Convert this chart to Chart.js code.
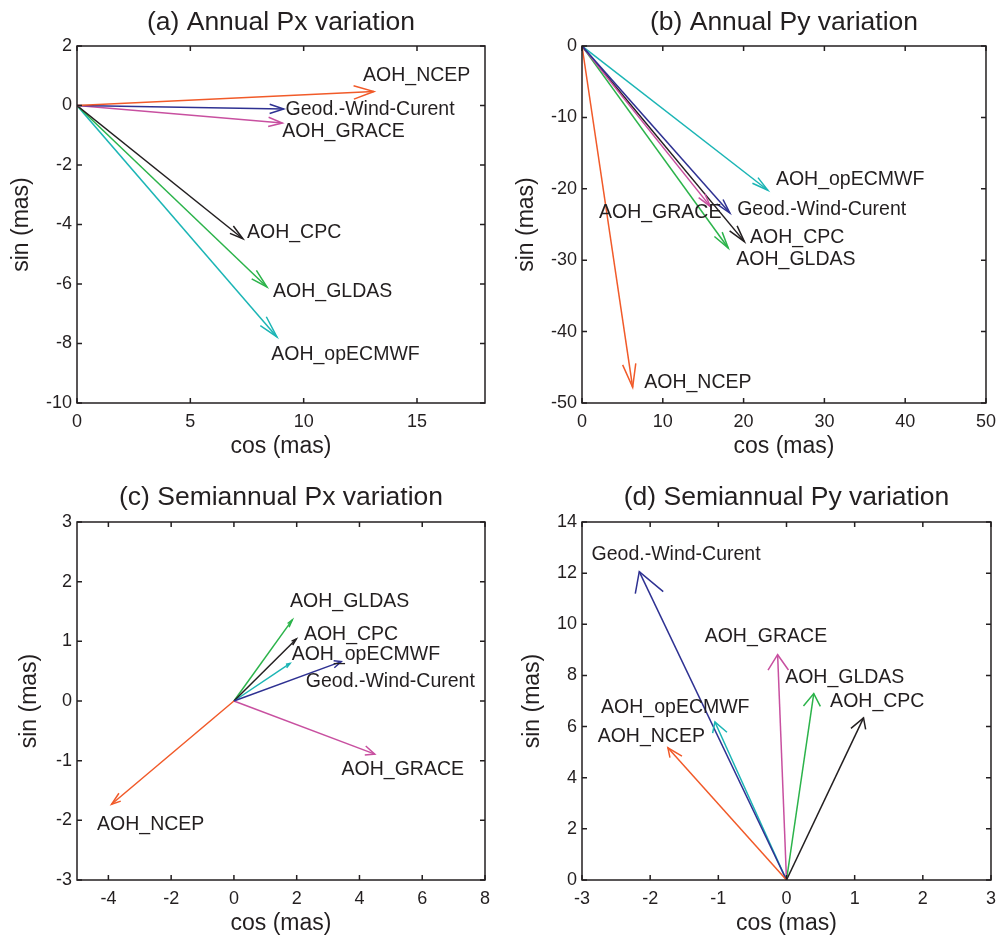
<!DOCTYPE html>
<html>
<head>
<meta charset="utf-8">
<script src="https://cdn.jsdelivr.net/npm/chart.js@4.4.0/dist/chart.umd.min.js"></script>
<style>
  body { margin: 0; background: #fff; }
  #wrap { position: relative; width: 1004px; height: 937px; }
  canvas { position: absolute; }
</style>
</head>
<body>
<div id="wrap">
  <canvas id="pa" width="502" height="468" style="left:0;top:0"></canvas>
  <canvas id="pb" width="502" height="468" style="left:502px;top:0"></canvas>
  <canvas id="pc" width="502" height="469" style="left:0;top:468px"></canvas>
  <canvas id="pd" width="502" height="469" style="left:502px;top:468px"></canvas>
</div>
<script>
// series (same order in every panel)
const seriesNames = ['AOH_NCEP', 'Geod.-Wind-Curent', 'AOH_GRACE', 'AOH_CPC', 'AOH_GLDAS', 'AOH_opECMWF'];
const seriesColors = ['#f15a29', '#2e3192', '#c850a0', '#231f20', '#2bb34a', '#1bb5b5'];

// (a) annual Px
const annualPxCos = [13.1, 9.12, 9.06, 7.32, 8.38, 8.82];
const annualPxSin = [0.47, -0.12, -0.59, -4.48, -6.10, -7.78];
// (b) annual Py
const annualPyCos = [6.27, 18.3, 15.9, 20.1, 18.1, 23.0];
const annualPySin = [-47.8, -23.4, -22.5, -27.4, -28.3, -20.2];
// (c) semiannual Px
const semiPxCos = [-3.90, 3.42, 4.49, 1.99, 1.86, 1.79];
const semiPxSin = [-1.73, 0.66, -0.89, 1.04, 1.36, 0.63];
// (d) semiannual Py
const semiPyCos = [-1.74, -2.16, -0.13, 1.13, 0.40, -1.05];
const semiPySin = [5.17, 12.06, 8.81, 6.34, 7.29, 6.18];

// tick labels
const xTicksA = [0, 5, 10, 15];
const yTicksA = [-10, -8, -6, -4, -2, 0, 2];
const xTicksB = [0, 10, 20, 30, 40, 50];
const yTicksB = [-50, -40, -30, -20, -10, 0];
const xTicksC = [-4, -2, 0, 2, 4, 6, 8];
const yTicksC = [-3, -2, -1, 0, 1, 2, 3];
const xTicksD = [-3, -2, -1, 0, 1, 2, 3];
const yTicksD = [0, 2, 4, 6, 8, 10, 12, 14];

// where each text label sits (data units, left-middle anchor)
const labelAtA = [[12.62, 1.0], [9.2, -0.15], [9.06, -0.87], [7.5, -4.27], [8.65, -6.27], [8.57, -8.38]];
const labelAtB = [[7.7, -47.1], [19.2, -22.9], [2.1, -23.4], [20.8, -26.9], [19.1, -29.9], [24.0, -18.7]];
const labelAtC = [[-4.36, -2.08], [2.29, 0.33], [3.43, -1.15], [2.23, 1.11], [1.79, 1.67], [1.84, 0.78]];
const labelAtD = [[-2.77, 5.59], [-2.86, 12.74], [-1.20, 9.52], [0.64, 6.99], [-0.02, 7.90], [-2.72, 6.75]];

const FONT = "'Liberation Sans', Arial, Helvetica, sans-serif";
const INK = '#231f20';
const HEAD_LEN = 0.068;    // arrow head length, fraction of vector (data units)
const HEAD_SPREAD = 0.25;

// arrow heads, labels, box and inward ticks
function decor(labelAt) {
  return {
    id: 'decor',
    afterDatasetsDraw(chart) {
      const { ctx, chartArea: a, scales: { x, y } } = chart;
      ctx.save();
      chart.data.datasets.forEach(ds => {
        const u = ds.data[1].x, v = ds.data[1].y;
        const b1 = [u - HEAD_LEN * (u + HEAD_SPREAD * v), v - HEAD_LEN * (v - HEAD_SPREAD * u)];
        const b2 = [u - HEAD_LEN * (u - HEAD_SPREAD * v), v - HEAD_LEN * (v + HEAD_SPREAD * u)];
        ctx.strokeStyle = ds.borderColor;
        ctx.lineWidth = ds.borderWidth;
        ctx.beginPath();
        ctx.moveTo(x.getPixelForValue(b1[0]), y.getPixelForValue(b1[1]));
        ctx.lineTo(x.getPixelForValue(u), y.getPixelForValue(v));
        ctx.lineTo(x.getPixelForValue(b2[0]), y.getPixelForValue(b2[1]));
        ctx.stroke();
      });

      ctx.fillStyle = INK;
      ctx.font = '19.5px ' + FONT;
      ctx.textAlign = 'left';
      ctx.textBaseline = 'middle';
      labelAt.forEach((p, i) => {
        ctx.fillText(seriesNames[i], x.getPixelForValue(p[0]), y.getPixelForValue(p[1]));
      });

      ctx.strokeStyle = INK;
      ctx.lineWidth = 1.5;
      ctx.strokeRect(a.left, a.top, a.right - a.left, a.bottom - a.top);
      ctx.beginPath();
      x.ticks.forEach(t => {
        const px = x.getPixelForValue(t.value);
        ctx.moveTo(px, a.bottom); ctx.lineTo(px, a.bottom - 5);
        ctx.moveTo(px, a.top); ctx.lineTo(px, a.top + 5);
      });
      y.ticks.forEach(t => {
        const py = y.getPixelForValue(t.value);
        ctx.moveTo(a.left, py); ctx.lineTo(a.left + 5, py);
        ctx.moveTo(a.right, py); ctx.lineTo(a.right - 5, py);
      });
      ctx.stroke();
      ctx.restore();
    }
  };
}

function drawPanel(id, p) {
  new Chart(document.getElementById(id), {
    type: 'scatter',
    data: {
      datasets: seriesNames.map((n, i) => ({
        label: n,
        data: [{ x: 0, y: 0 }, { x: p.cos[i], y: p.sin[i] }],
        showLine: true,
        borderColor: seriesColors[i],
        borderWidth: 1.5,
        pointRadius: 0
      }))
    },
    options: {
      responsive: false,
      animation: false,
      events: [],
      layout: { padding: { left: 0, right: p.padRight, top: 0, bottom: 0 } },
      plugins: {
        legend: { display: false },
        tooltip: { enabled: false },
        title: {
          display: true, text: p.title, color: INK, fullSize: false,
          font: { family: FONT, size: 26.5, weight: 'normal' },
          padding: { top: p.titleTop, bottom: p.titleBottom }
        }
      },
      scales: {
        x: {
          type: 'linear', min: p.xMin, max: p.xMax,
          afterBuildTicks: s => { s.ticks = p.xTicks.map(v => ({ value: v })); },
          afterFit: s => { s.height = p.xAxisH; },
          grid: { display: false, drawTicks: false },
          border: { display: false },
          ticks: { color: INK, font: { family: FONT, size: 18 }, padding: 8, maxRotation: 0, autoSkip: false },
          title: { display: true, text: 'cos (mas)', color: INK, font: { family: FONT, size: 23 }, padding: { top: 0, bottom: p.xTitlePad } }
        },
        y: {
          type: 'linear', min: p.yMin, max: p.yMax,
          afterBuildTicks: s => { s.ticks = p.yTicks.map(v => ({ value: v })); },
          afterFit: s => { s.width = p.yAxisW; },
          grid: { display: false, drawTicks: false },
          border: { display: false },
          ticks: { color: INK, font: { family: FONT, size: 18 }, padding: 5, autoSkip: false },
          title: { display: true, text: 'sin (mas)', color: INK, font: { family: FONT, size: 23 }, padding: { top: p.yTitlePad, bottom: 0 } }
        }
      }
    },
    plugins: [decor(p.labelAt)]
  });
}

drawPanel('pa', {
  title: '(a) Annual Px variation', cos: annualPxCos, sin: annualPxSin, labelAt: labelAtA,
  xMin: 0, xMax: 18, yMin: -10, yMax: 2, xTicks: xTicksA, yTicks: yTicksA,
  padRight: 17, yAxisW: 77, xAxisH: 65, titleTop: 7, titleBottom: 7.2, xTitlePad: 7.5, yTitlePad: 8.3
});
drawPanel('pb', {
  title: '(b) Annual Py variation', cos: annualPyCos, sin: annualPySin, labelAt: labelAtB,
  xMin: 0, xMax: 50, yMin: -50, yMax: 0, xTicks: xTicksB, yTicks: yTicksB,
  padRight: 12, yAxisW: 80, xAxisH: 65, titleTop: 7, titleBottom: 7.2, xTitlePad: 7.5, yTitlePad: 11.3
});
drawPanel('pc', {
  title: '(c) Semiannual Px variation', cos: semiPxCos, sin: semiPxSin, labelAt: labelAtC,
  xMin: -5, xMax: 8, yMin: -3, yMax: 3, xTicks: xTicksC, yTicks: yTicksC,
  padRight: 17, yAxisW: 77, xAxisH: 57, titleTop: 13.5, titleBottom: 8.7, xTitlePad: 0, yTitlePad: 15.8
});
drawPanel('pd', {
  title: '(d) Semiannual Py variation', cos: semiPyCos, sin: semiPySin, labelAt: labelAtD,
  xMin: -3, xMax: 3, yMin: 0, yMax: 14, xTicks: xTicksD, yTicks: yTicksD,
  padRight: 12, yAxisW: 80, xAxisH: 57, titleTop: 13.5, titleBottom: 8.7, xTitlePad: 0, yTitlePad: 17.3
});
</script>
</body>
</html>
